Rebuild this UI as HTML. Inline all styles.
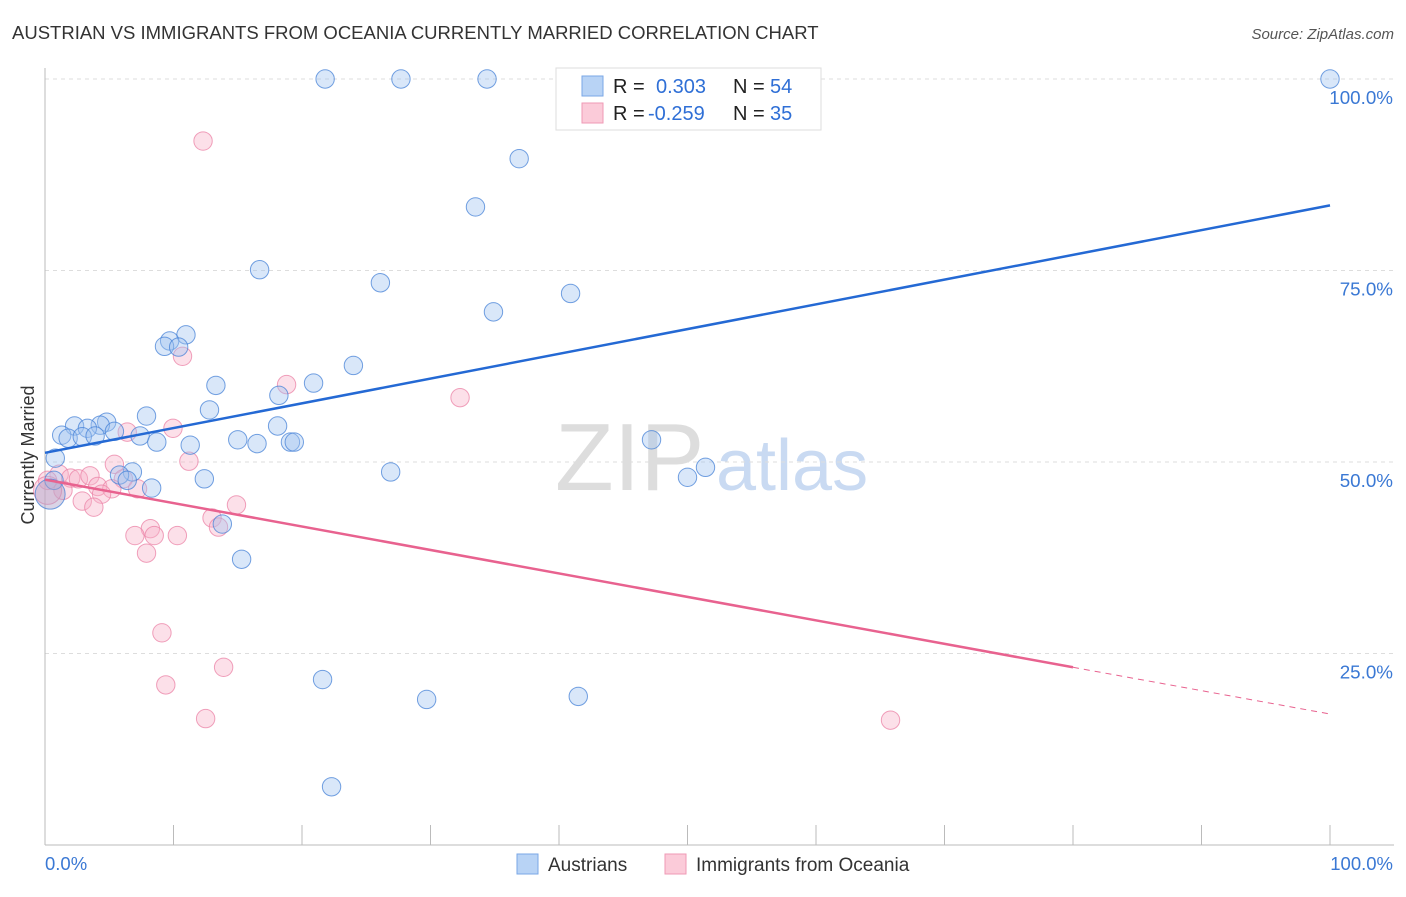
<!DOCTYPE html>
<html><head><meta charset="utf-8">
<style>
body{margin:0;background:#fff;font-family:"Liberation Sans",sans-serif;}
svg text{font-family:"Liberation Sans",sans-serif;}
</style></head>
<body>
<svg id="chart" width="1406" height="892" xmlns="http://www.w3.org/2000/svg">
<text x="12" y="39" font-size="18.5" fill="#333">AUSTRIAN VS IMMIGRANTS FROM OCEANIA CURRENTLY MARRIED CORRELATION CHART</text>
<text x="1394" y="39" font-size="15" fill="#555" font-style="italic" text-anchor="end">Source: ZipAtlas.com</text>
<text x="34" y="455" font-size="18" fill="#333" text-anchor="middle" transform="rotate(-90 34 455)">Currently Married</text>
<g><text x="555" y="490" font-size="96" fill="#ddd" font-family="Liberation Serif,serif">ZIP</text><text x="716" y="490" font-size="72" fill="#c9daf2">atlas</text></g>
<g id="grid"></g>
<g id="marks"></g>
<g id="lines"></g>
<g>
<rect x="556" y="68" width="265" height="62" fill="#fff" stroke="#ddd"/>
<rect x="582" y="76" width="21" height="20" fill="#b8d3f5" stroke="#7aa7e6"/>
<rect x="582" y="103" width="21" height="20" fill="#fbcbd9" stroke="#ef9ab5"/>
<text x="613" y="93" font-size="20" fill="#222">R =</text><text x="656" y="93" font-size="20" fill="#2f6fd6">0.303</text>
<text x="733" y="93" font-size="20" fill="#222">N =</text><text x="770" y="93" font-size="20" fill="#2f6fd6">54</text>
<text x="613" y="120" font-size="20" fill="#222">R =</text><text x="648" y="120" font-size="20" fill="#2f6fd6">-0.259</text>
<text x="733" y="120" font-size="20" fill="#222">N =</text><text x="770" y="120" font-size="20" fill="#2f6fd6">35</text>
</g>
<g>
<rect x="517" y="854" width="21" height="20" fill="#b8d3f5" stroke="#7aa7e6"/>
<text x="548" y="871" font-size="19" fill="#333">Austrians</text>
<rect x="665" y="854" width="21" height="20" fill="#fbcbd9" stroke="#ef9ab5"/>
<text x="696" y="871" font-size="19" fill="#333">Immigrants from Oceania</text>
</g>
</svg>
<script>
const yTicks=[25,50,75,100];
const yTickLabels=["25.0%","50.0%","75.0%","100.0%"];
const xTickLabels=["0.0%","100.0%"];
const blueX=[21.8,27.7,34.4,100,36.9,33.5,16.7,26.1,40.9,34.9,10.97,9.7,9.3,10.4,24,13.3,20.9,18.2,12.8,7.9,4.8,18.1,2.3,4.3,3.3,5.4,1.3,1.8,2.9,3.9,7.4,8.7,15,16.5,19.1,19.4,11.3,47.2,0.8,51.4,50.0,6.8,26.9,5.8,6.4,12.4,8.3,0.7,0.4,13.8,15.3,21.6,29.7,41.5,22.3];
const blueY=[100,100,100,100,89.6,83.3,75.1,73.4,72,69.6,66.6,65.8,65.1,65,62.6,60,60.3,58.7,56.8,56,55.2,54.7,54.7,54.8,54.4,54.0,53.5,53.1,53.3,53.4,53.4,52.6,52.9,52.4,52.6,52.6,52.2,52.9,50.5,49.3,48.0,48.7,48.7,48.3,47.6,47.8,46.6,47.6,45.8,41.9,37.3,21.6,19.0,19.4,7.6];
const pinkX=[12.3,10.7,18.8,32.3,9.96,6.4,11.2,5.4,1.1,2,2.6,3.5,6.1,0.2,4.1,5.2,7.2,4.4,1.4,2.9,3.8,14.9,13,13.5,8.2,8.5,10.3,7,7.9,9.1,13.9,9.4,12.5,65.8,0.2];
const pinkY=[91.9,63.8,60.1,58.4,54.4,53.9,50.1,49.7,48.4,47.9,47.8,48.2,47.8,47.6,46.8,46.5,46.5,45.8,46.3,44.9,44.1,44.4,42.7,41.5,41.3,40.4,40.4,40.4,38.1,27.7,23.2,20.9,16.5,16.3,46.3];
const blueBig=[false,false,false,false,false,false,false,false,false,false,false,false,false,false,false,false,false,false,false,false,false,false,false,false,false,false,false,false,false,false,false,false,false,false,false,false,false,false,false,false,false,false,false,false,false,false,false,false,true,false,false,false,false,false,false];
const trendBlue=[[0,51.2],[100,83.5]];
const trendPink=[[0,47.7],[80,23.2],[100,17.1]];
const X0=45,X1=1330,Y0=845,Y1=79;
const xs=v=>X0+(X1-X0)*v/100, ys=v=>Y0-(Y0-Y1)*v/100;
const NS="http://www.w3.org/2000/svg";
function mk(tag,attrs,parent){const e=document.createElementNS(NS,tag);for(const k in attrs)e.setAttribute(k,attrs[k]);parent.appendChild(e);return e;}
const grid=document.getElementById('grid'),marks=document.getElementById('marks'),lines=document.getElementById('lines');
yTicks.forEach((t,i)=>{
 const g=mk('line',{x1:X0,x2:1394,y1:ys(t),y2:ys(t),stroke:'#ddd','stroke-dasharray':'4 4'},grid);
 
 
 const tx=mk('text',{x:1393,y:ys(t)+25,'font-size':18.8,fill:'#3a78d4','text-anchor':'end'},grid);
 tx.textContent=yTickLabels[i];
 
 
});
const ax=mk('line',{x1:X0,x2:X0,y1:68,y2:Y0,stroke:'#bbb'},grid);


const bx=mk('line',{x1:X0,x2:1394,y1:Y0,y2:Y0,stroke:'#bbb'},grid);


for(let i=0;i<=10;i++){const t=mk('line',{x1:xs(i*10),x2:xs(i*10),y1:Y0-20,y2:Y0,stroke:'#bbb'},grid);
 
 }
[[0,'start',X0],[1,'end',1393]].forEach(([i,a,x])=>{const t=mk('text',{x:x,y:870,'font-size':18.5,fill:'#3a78d4','text-anchor':a},grid);t.textContent=xTickLabels[i];
 
 });
pinkX.forEach((v,i)=>{const big=i==pinkX.length-1;const c=mk('circle',{cx:xs(v),cy:ys(pinkY[i]),r:big?14:9.2,fill:'rgba(248,178,200,0.4)',stroke:'rgba(235,130,165,0.75)','stroke-width':1},marks);
 
 });
blueX.forEach((v,i)=>{const c=mk('circle',{cx:xs(v),cy:ys(blueY[i]),r:blueBig[i]?15:9.2,fill:blueBig[i]?'rgba(170,160,200,0.45)':'rgba(160,195,240,0.4)',stroke:'rgba(70,130,215,0.75)','stroke-width':1},marks);
 
 });
const bl=mk('line',{x1:xs(trendBlue[0][0]),y1:ys(trendBlue[0][1]),x2:xs(trendBlue[1][0]),y2:ys(trendBlue[1][1]),stroke:'#2469d4','stroke-width':2.5},lines);


const pl=mk('line',{x1:xs(trendPink[0][0]),y1:ys(trendPink[0][1]),x2:xs(trendPink[1][0]),y2:ys(trendPink[1][1]),stroke:'#e8628f','stroke-width':2.5},lines);


const pd=mk('line',{x1:xs(trendPink[1][0]),y1:ys(trendPink[1][1]),x2:xs(trendPink[2][0]),y2:ys(trendPink[2][1]),stroke:'#e8628f','stroke-width':1,'stroke-dasharray':'6 5'},lines);


</script>
</body></html>
